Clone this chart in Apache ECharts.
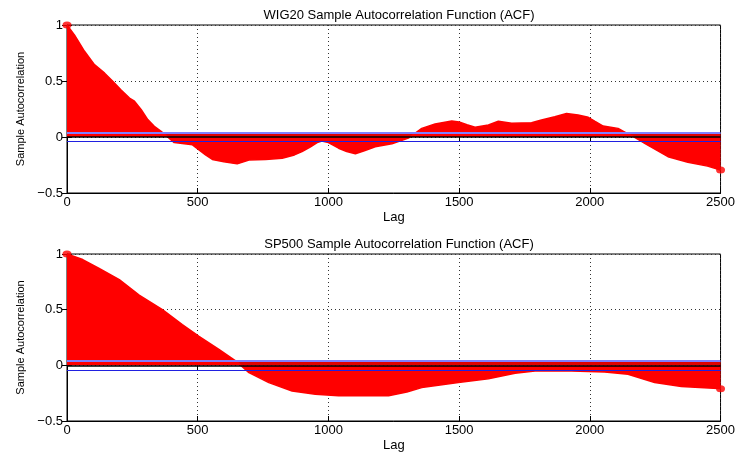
<!DOCTYPE html>
<html>
<head>
<meta charset="utf-8">
<script src="https://cdn.jsdelivr.net/npm/echarts@6/dist/echarts.min.js"></script>
<style>
html,body{margin:0;padding:0;background:#fff;}
#c{width:738px;height:453px;}
</style>
</head>
<body>
<div id="c"></div>
<script>
// ---- data ----
const titles = ['WIG20 Sample Autocorrelation Function (ACF)', 'SP500 Sample Autocorrelation Function (ACF)'];
const xTicks = [0, 500, 1000, 1500, 2000, 2500];
const yTicks = [-0.5, 0, 0.5, 1];
const confBound = [0.037, -0.035];

const wigLags = [0,29,67,105,144,175,207,239,258,284,309,334,360,385,410,480,530,556,600,651,696,760,823,870,899,930,957,975,1000,1039,1070,1103,1140,1179,1243,1306,1330,1357,1408,1472,1500,1530,1561,1612,1650,1701,1777,1815,1866,1911,1955,1994,2020,2051,2108,2146,2170,2210,2299,2375,2450,2500];
const wigAcf  = [1,0.91,0.765,0.646,0.57,0.497,0.42,0.348,0.32,0.244,0.155,0.095,0.05,0,-0.05,-0.07,-0.16,-0.2,-0.22,-0.24,-0.205,-0.2,-0.19,-0.16,-0.13,-0.09,-0.05,-0.035,-0.05,-0.1,-0.13,-0.15,-0.12,-0.087,-0.06,-0.01,0.03,0.077,0.116,0.143,0.135,0.11,0.087,0.107,0.14,0.122,0.127,0.152,0.18,0.21,0.196,0.176,0.14,0.098,0.077,0.027,0,-0.057,-0.176,-0.226,-0.26,-0.295];

const spLags = [0,60,123,200,276,365,441,505,581,645,665,696,772,861,950,1039,1230,1300,1357,1497,1612,1714,1790,1930,2057,2146,2248,2350,2490,2500];
const spAcf  = [1,0.95,0.87,0.77,0.63,0.5,0.366,0.26,0.143,0.04,0,-0.065,-0.155,-0.23,-0.26,-0.274,-0.274,-0.24,-0.2,-0.155,-0.12,-0.071,-0.05,-0.05,-0.06,-0.08,-0.155,-0.19,-0.208,-0.21];

// ---- chart ----
const FONT = 'Liberation Sans';
const sets = [[wigLags, wigAcf], [spLags, spAcf]];
const grids = [
  {left: 67, top: 25, width: 655, height: 168},
  {left: 67, top: 254, width: 655, height: 168}
];
const fmtY = v => v < 0 ? '\u2212' + Math.abs(v) : String(v);
const fmtX = v => String(v);
const grid = grids.map(g => Object.assign({show: true, borderColor: '#000', borderWidth: 1, backgroundColor: '#fff'}, g));
const xAxis = [], yAxis = [], series = [], title = [];
grids.forEach((g, i) => {
  title.push({text: titles[i], left: 394, top: i === 0 ? 4 : 233, textAlign: 'center',
    textStyle: {fontFamily: FONT, fontSize: 13, fontWeight: 'normal', color: '#000'}});
  xAxis.push({type: 'value', gridIndex: i, min: xTicks[0], max: xTicks[xTicks.length - 1], interval: 500,
    name: 'Lag', nameLocation: 'middle', nameGap: 18,
    nameTextStyle: {fontFamily: FONT, fontSize: 13, color: '#000'},
    axisLine: {show: true, onZero: false, lineStyle: {color: '#000'}},
    axisTick: {show: true, inside: true, length: 5, lineStyle: {color: '#000'}},
    axisLabel: {fontFamily: FONT, fontSize: 13, color: '#000', margin: 3, formatter: fmtX},
    splitLine: {show: true, lineStyle: {type: [1, 3], color: '#333'}}});
  xAxis.push({type: 'value', gridIndex: i, position: 'top', min: 0, max: 2500, interval: 500,
    axisLine: {show: false}, axisTick: {show: true, inside: true, length: 5, lineStyle: {color: '#000'}},
    axisLabel: {show: false}, splitLine: {show: false}});
  yAxis.push({type: 'value', gridIndex: i, min: yTicks[0], max: yTicks[yTicks.length - 1], interval: 0.5,
    name: 'Sample Autocorrelation', nameLocation: 'middle', nameGap: 41,
    nameTextStyle: {fontFamily: FONT, fontSize: 11, color: '#000'},
    axisLine: {show: true, lineStyle: {color: '#000'}},
    axisTick: {show: true, inside: true, length: 5, lineStyle: {color: '#000'}},
    axisLabel: {fontFamily: FONT, fontSize: 13, color: '#000', margin: 4, formatter: fmtY},
    splitLine: {show: true, lineStyle: {type: [1, 3], color: '#333'}}});
  yAxis.push({type: 'value', gridIndex: i, position: 'right', min: -0.5, max: 1, interval: 0.5,
    axisLine: {show: false}, axisTick: {show: true, inside: true, length: 5, lineStyle: {color: '#000'}},
    axisLabel: {show: false}, splitLine: {show: false}});
  const [lags, acf] = sets[i];
  const pts = lags.map((l, k) => [l, acf[k]]);
  series.push({type: 'line', xAxisIndex: 2 * i, yAxisIndex: 2 * i, data: pts, symbol: 'none',
    lineStyle: {color: '#ff0000', width: 1.5}, areaStyle: {color: '#ff0000', opacity: 1, origin: 0},
    silent: true, animation: false, z: 3,
    markArea: {silent: true, itemStyle: {color: '#e00000'}, data: [[{yAxis: 0}, {yAxis: 0.03}]]},
    markLine: {silent: true, symbol: 'none', label: {show: false}, animation: false,
      data: [
        {yAxis: 0, lineStyle: {color: '#000', width: 1.5, type: 'solid'}},
        {yAxis: confBound[0], lineStyle: {color: '#7f7fff', width: 2, type: 'solid'}},
        {yAxis: confBound[1], lineStyle: {color: '#2020e0', width: 1, type: 'solid'}}
      ]}});
  series.push({type: 'scatter', xAxisIndex: 2 * i, yAxisIndex: 2 * i, clip: false,
    data: [pts[0], pts[pts.length - 1]], symbolSize: [9, 7], itemStyle: {color: '#ff0000'},
    silent: true, animation: false, z: 5});
});
const chart = echarts.init(document.getElementById('c'), null, {renderer: 'canvas'});
chart.setOption({animation: false, backgroundColor: '#fff', title, grid, xAxis, yAxis, series});
</script>
</body>
</html>
